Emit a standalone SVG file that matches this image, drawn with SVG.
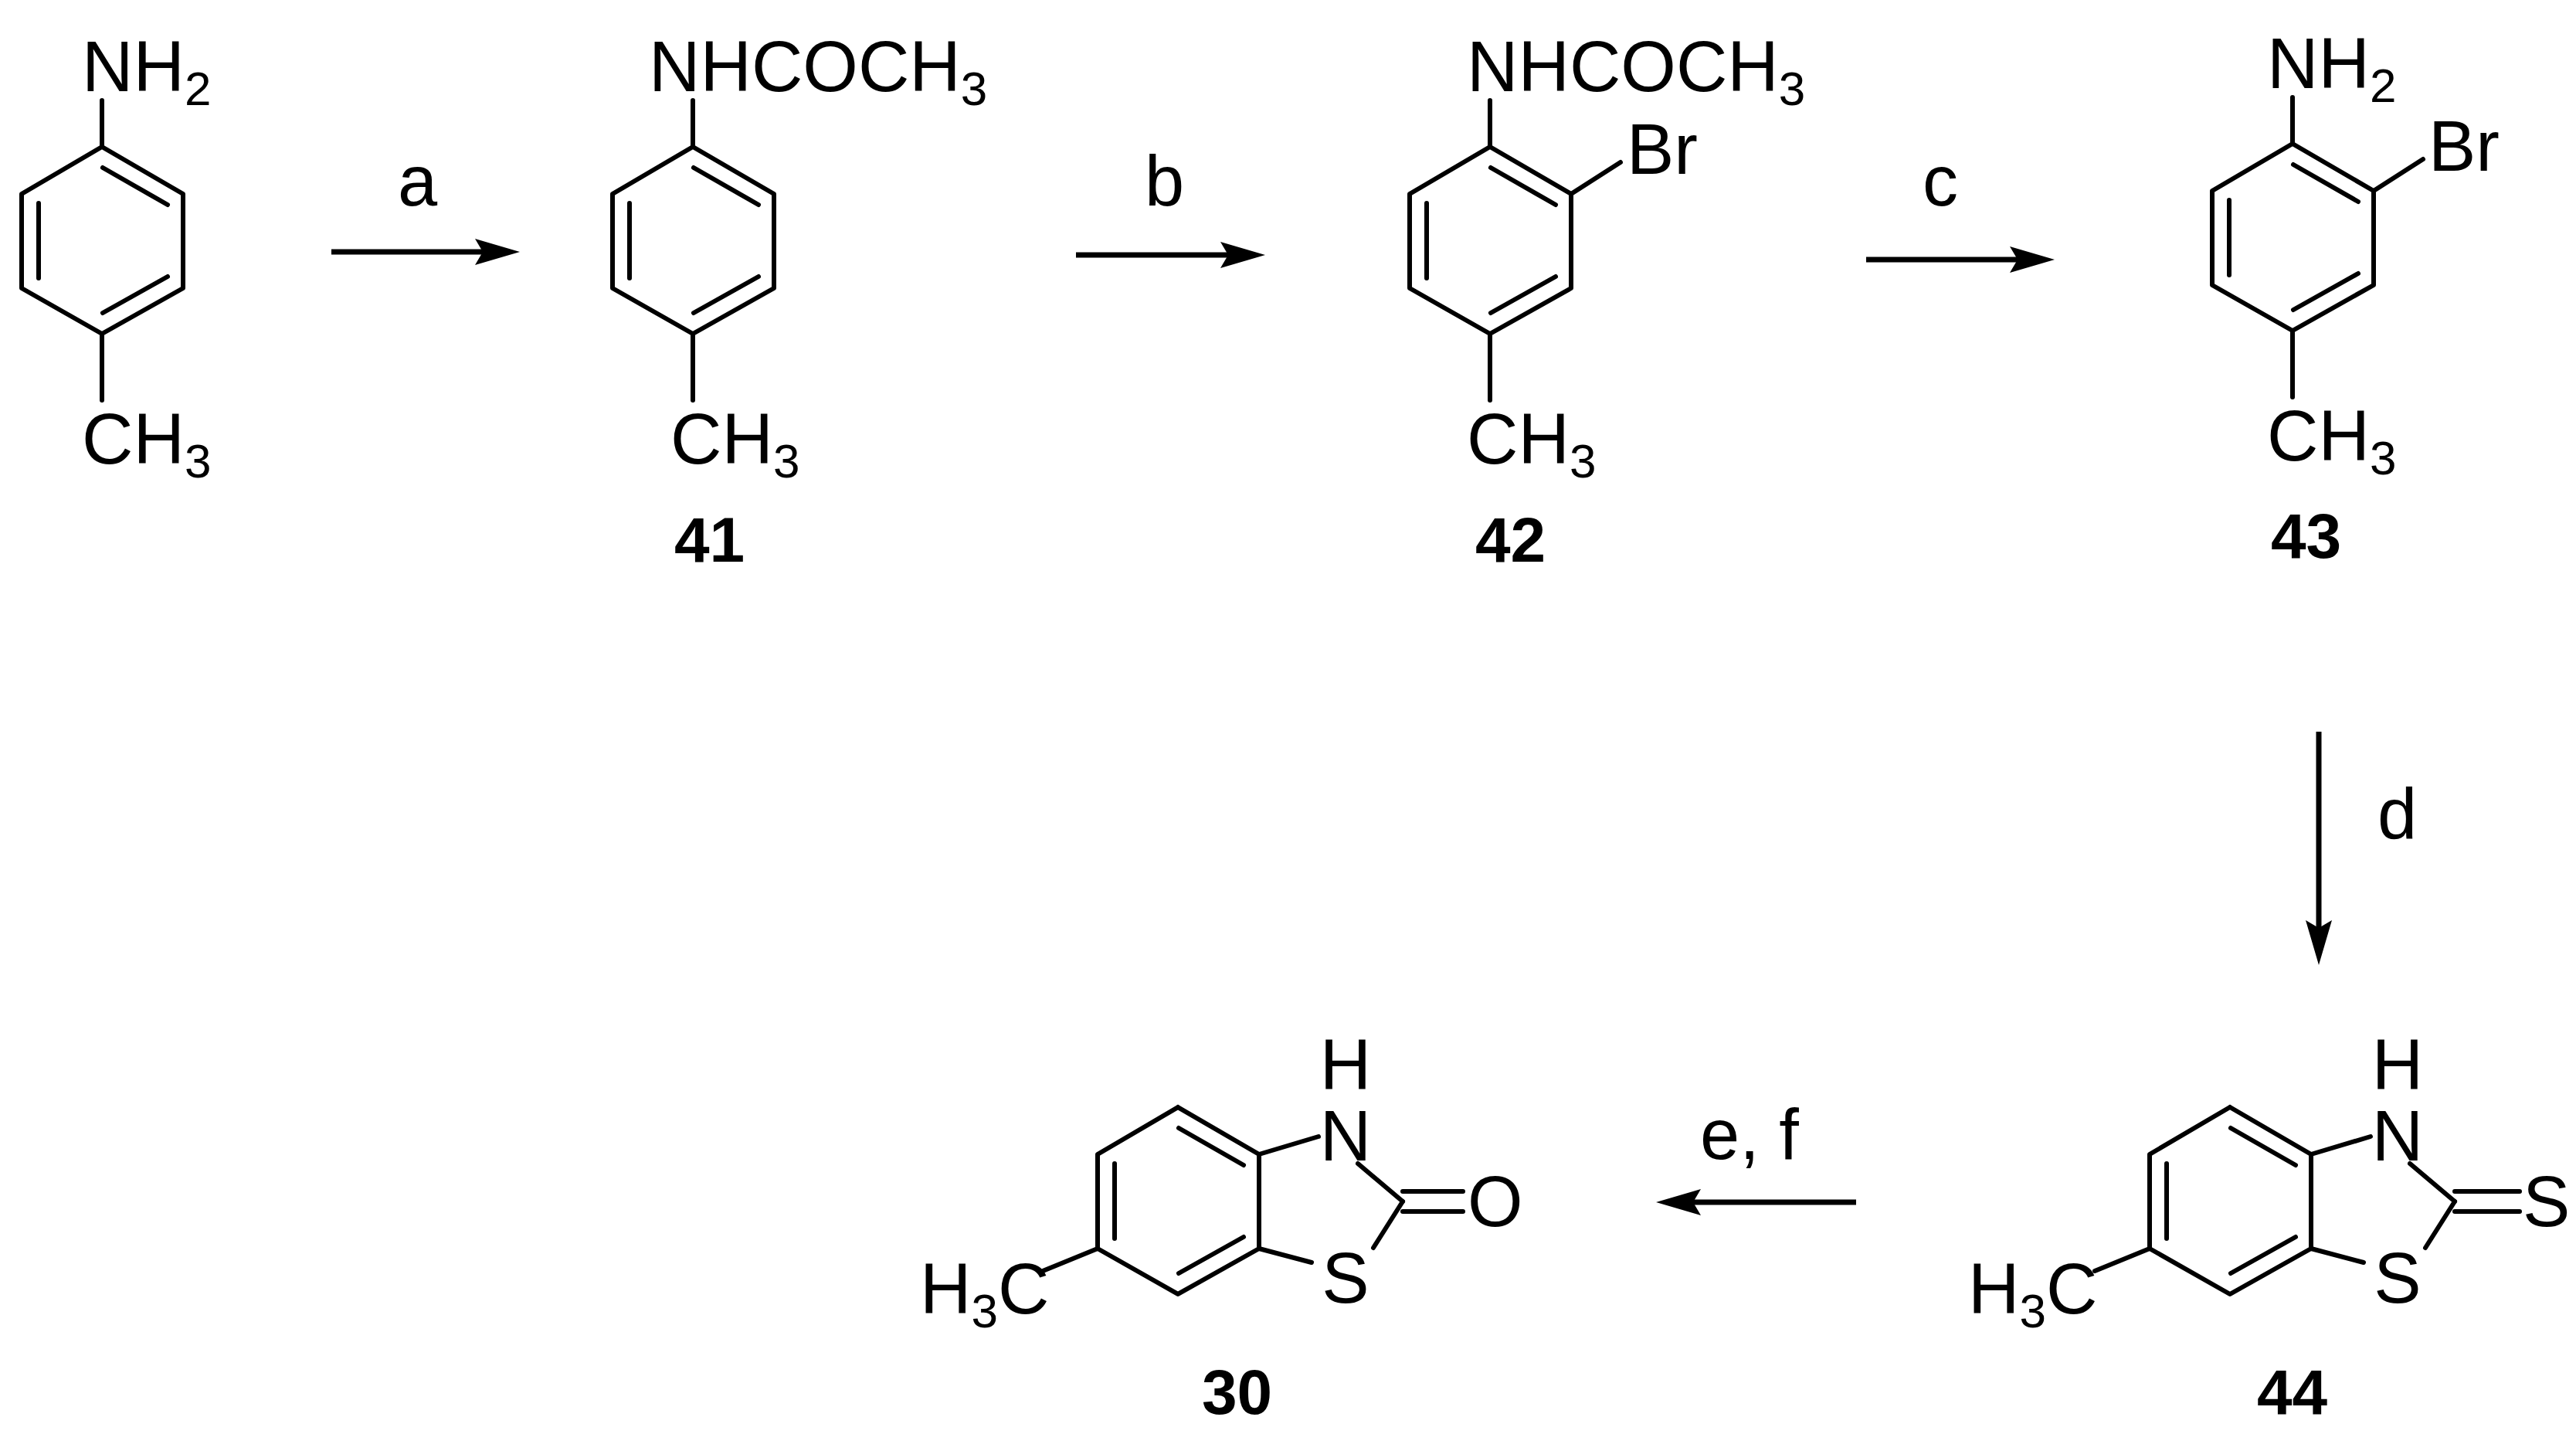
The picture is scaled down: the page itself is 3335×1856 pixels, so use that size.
<svg xmlns="http://www.w3.org/2000/svg" xmlns:xlink="http://www.w3.org/1999/xlink" width="3335" height="1856" viewBox="0 0 3335 1856">
<style>
line,polyline{stroke:#000;stroke-width:6;fill:none;stroke-linecap:round;stroke-linejoin:round}
.arr{stroke-width:7;stroke-linecap:butt}
.head{fill:#000;stroke:none}
text{font-family:"Liberation Sans",Arial,sans-serif;font-size:92px;fill:#000}
.lbl{font-weight:bold;font-size:82px}
.sub{font-size:62px}
</style>
<defs>
<g id="ring">
<polyline points="0,0 105,61 105,183 0,242 -104,183 -104,61 0,0"/>
<line x1="1" y1="27" x2="85" y2="75"/>
<line x1="-82" y1="73" x2="-82" y2="170"/>
<line x1="85" y1="168" x2="1" y2="215"/>
</g>
<path id="ahr" class="head" d="M0,0 L-58,-17 L-48,0 L-58,17 Z"/>
</defs>
<rect width="3335" height="1856" fill="#fff"/>
<g id="toluidine">
<use xlink:href="#ring" x="132" y="190"/>
<line x1="132" y1="130" x2="132" y2="190"/>
<line x1="132" y1="432" x2="132" y2="518"/>
<text x="106" y="118">NH<tspan class="sub" dy="18">2</tspan></text>
<text x="106" y="600">CH<tspan class="sub" dy="18">3</tspan></text>
</g>
<g id="c41">
<use xlink:href="#ring" x="897" y="190"/>
<line x1="897" y1="130" x2="897" y2="190"/>
<line x1="897" y1="432" x2="897" y2="518"/>
<text x="840" y="118">NHCOCH<tspan class="sub" dy="18">3</tspan></text>
<text x="868" y="600">CH<tspan class="sub" dy="18">3</tspan></text>
<text class="lbl" x="873" y="727">41</text>
</g>
<g id="c42">
<use xlink:href="#ring" x="1929" y="190"/>
<line x1="1929" y1="130" x2="1929" y2="190"/>
<line x1="1929" y1="432" x2="1929" y2="518"/>
<line x1="2034" y1="251" x2="2098" y2="210"/>
<text x="1899" y="118">NHCOCH<tspan class="sub" dy="18">3</tspan></text>
<text x="2106" y="225">Br</text>
<text x="1899" y="600">CH<tspan class="sub" dy="18">3</tspan></text>
<text class="lbl" x="1910" y="727">42</text>
</g>
<g id="c43">
<use xlink:href="#ring" x="2968" y="186"/>
<line x1="2968" y1="126" x2="2968" y2="186"/>
<line x1="2968" y1="428" x2="2968" y2="514"/>
<line x1="3073" y1="247" x2="3137" y2="206"/>
<text x="2935" y="114">NH<tspan class="sub" dy="18">2</tspan></text>
<text x="3144" y="221">Br</text>
<text x="2935" y="596">CH<tspan class="sub" dy="18">3</tspan></text>
<text class="lbl" x="2940" y="722">43</text>
</g>
<g id="c44">
<use xlink:href="#ring" x="2887" y="1433"/>
<line x1="2992" y1="1494" x2="3069" y2="1471"/>
<line x1="3120" y1="1506" x2="3178" y2="1555"/>
<line x1="3178" y1="1555" x2="3140" y2="1615"/>
<line x1="2992" y1="1616" x2="3060" y2="1634"/>
<line x1="3178" y1="1542" x2="3262" y2="1542"/>
<line x1="3178" y1="1568" x2="3262" y2="1568"/>
<line x1="2783" y1="1616" x2="2712" y2="1645"/>
<text x="3104" y="1410" text-anchor="middle">H</text>
<text x="3104" y="1502" text-anchor="middle">N</text>
<text x="3104" y="1686" text-anchor="middle">S</text>
<text x="3266" y="1587">S</text>
<text x="2548" y="1700">H<tspan class="sub" dy="18">3</tspan><tspan dy="-18">C</tspan></text>
<text class="lbl" x="2922" y="1830">44</text>
</g>
<g id="c30">
<use xlink:href="#ring" x="1525" y="1433"/>
<line x1="1630" y1="1494" x2="1707" y2="1471"/>
<line x1="1758" y1="1506" x2="1816" y2="1555"/>
<line x1="1816" y1="1555" x2="1778" y2="1615"/>
<line x1="1630" y1="1616" x2="1698" y2="1634"/>
<line x1="1816" y1="1542" x2="1894" y2="1542"/>
<line x1="1816" y1="1568" x2="1894" y2="1568"/>
<line x1="1421" y1="1616" x2="1350" y2="1645"/>
<text x="1742" y="1410" text-anchor="middle">H</text>
<text x="1742" y="1502" text-anchor="middle">N</text>
<text x="1742" y="1686" text-anchor="middle">S</text>
<text x="1900" y="1587">O</text>
<text x="1191" y="1700">H<tspan class="sub" dy="18">3</tspan><tspan dy="-18">C</tspan></text>
<text class="lbl" x="1556" y="1830">30</text>
</g>
<g id="connectors">
<line class="arr" x1="429" y1="326" x2="630" y2="326"/>
<use xlink:href="#ahr" x="673" y="326"/>
<line class="arr" x1="1393" y1="330" x2="1595" y2="330"/>
<use xlink:href="#ahr" x="1638" y="330"/>
<line class="arr" x1="2416" y1="336" x2="2617" y2="336"/>
<use xlink:href="#ahr" x="2660" y="336"/>
<line class="arr" x1="3002" y1="947" x2="3002" y2="1206"/>
<use xlink:href="#ahr" transform="translate(3002,1249) rotate(90)"/>
<line class="arr" x1="2403" y1="1556" x2="2187" y2="1556"/>
<use xlink:href="#ahr" transform="translate(2144,1556) rotate(180)"/>
<text x="515" y="266">a</text>
<text x="1482" y="266">b</text>
<text x="2489" y="266">c</text>
<text x="3078" y="1085">d</text>
<text x="2201" y="1500">e, f</text>
</g>
</svg>
